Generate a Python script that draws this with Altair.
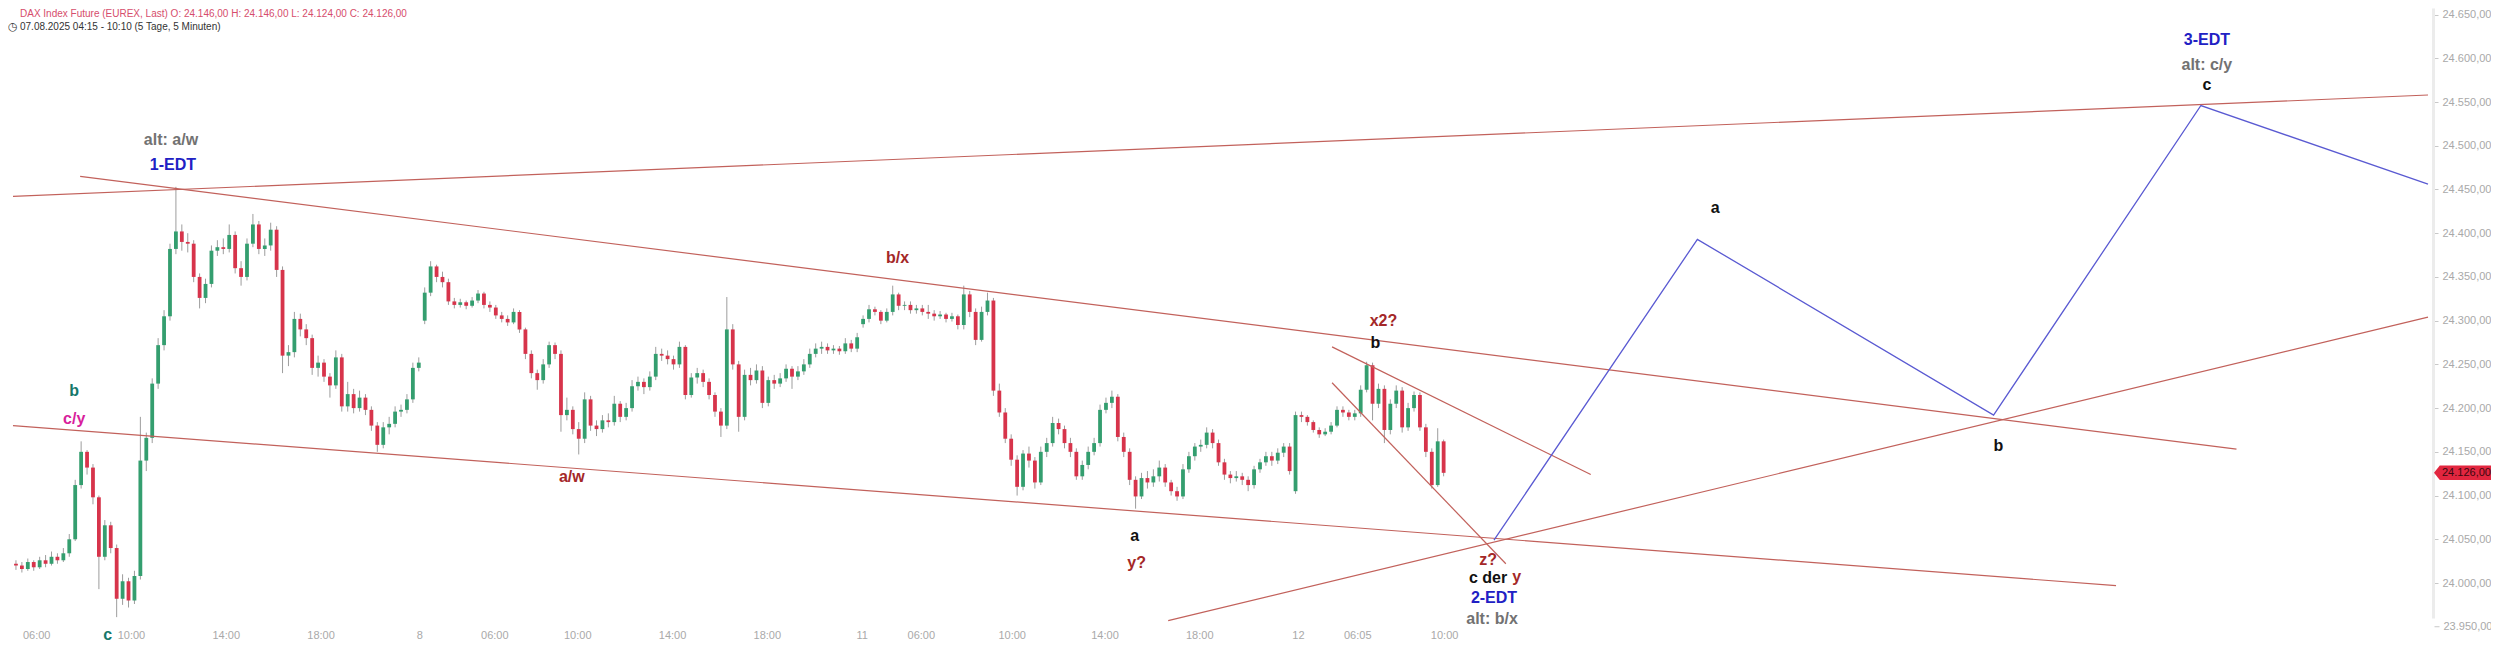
import altair as alt
import pandas as pd

# ---------------- header texts ----------------
header_line1 = "DAX Index Future (EUREX, Last)  O: 24.146,00  H: 24.146,00  L: 24.124,00  C: 24.126,00"
header_line2 = "07.08.2025 04:15 - 10:10  (5 Tage, 5 Minuten)"
clock_icon = "\u25F7"

# ---------------- candles (15-min aggregation) ----------------
# each entry: (close, high, low); open = previous close, first open of each day given
day7_open = 24022
day7 = [
    (24020, 24026, 24015), (24016, 24024, 24012), (24024, 24028, 24014), (24018, 24026, 24014),
    (24026, 24030, 24016), (24022, 24032, 24018), (24030, 24036, 24020), (24026, 24034, 24022),
    (24034, 24040, 24024), (24050, 24056, 24030), (24112, 24118, 24048), (24150, 24162, 24108),
    (24132, 24152, 24124), (24098, 24136, 24090), (24030, 24100, 23993), (24066, 24072, 24026),
    (24040, 24070, 24034), (23982, 24044, 23961), (24002, 24010, 23975), (23980, 24006, 23972),
    (24008, 24014, 23976), (24140, 24190, 24004), (24166, 24172, 24128), (24228, 24234, 24160),
    (24272, 24280, 24222), (24305, 24312, 24266), (24382, 24388, 24300), (24402, 24453, 24376),
    (24390, 24410, 24380), (24388, 24400, 24378), (24350, 24392, 24344), (24326, 24354, 24314),
    (24342, 24348, 24320), (24380, 24386, 24338), (24384, 24392, 24374), (24382, 24394, 24376),
    (24398, 24410, 24378), (24360, 24402, 24354), (24350, 24368, 24340), (24388, 24394, 24346),
    (24410, 24422, 24384), (24382, 24414, 24376), (24386, 24394, 24374), (24404, 24412, 24380),
    (24358, 24408, 24350), (24260, 24362, 24240), (24264, 24272, 24248), (24302, 24310, 24258),
    (24290, 24308, 24282), (24280, 24296, 24272), (24246, 24284, 24238), (24252, 24260, 24236),
    (24236, 24256, 24230), (24226, 24240, 24212), (24258, 24266, 24222), (24202, 24262, 24196),
    (24216, 24230, 24196), (24200, 24222, 24194), (24212, 24220, 24196), (24198, 24216, 24192),
    (24180, 24202, 24174), (24158, 24184, 24150), (24178, 24184, 24154), (24182, 24190, 24170),
    (24196, 24202, 24178), (24198, 24204, 24190), (24210, 24216, 24194), (24246, 24252, 24206),
    (24252, 24258, 24242),
]
day8_open = 24300
day8 = [
    (24332, 24338, 24296), (24362, 24368, 24328), (24350, 24364, 24344), (24344, 24356, 24338),
    (24322, 24348, 24318), (24318, 24326, 24314), (24321, 24325, 24315), (24317, 24323, 24313),
    (24323, 24327, 24315), (24331, 24335, 24320), (24318, 24333, 24314), (24315, 24322, 24310),
    (24306, 24318, 24302), (24302, 24310, 24298), (24298, 24306, 24294), (24310, 24314, 24296),
    (24290, 24312, 24286), (24262, 24292, 24256), (24240, 24266, 24234), (24232, 24244, 24221),
    (24250, 24256, 24228), (24272, 24276, 24246), (24262, 24275, 24256), (24192, 24266, 24173),
    (24198, 24212, 24186), (24176, 24202, 24170), (24165, 24184, 24147), (24210, 24218, 24160),
    (24180, 24214, 24174), (24176, 24186, 24168), (24186, 24192, 24172), (24184, 24194, 24178),
    (24205, 24214, 24180), (24190, 24208, 24184), (24200, 24206, 24186), (24225, 24232, 24196),
    (24230, 24236, 24220), (24224, 24234, 24216), (24236, 24242, 24220), (24262, 24270, 24232),
    (24260, 24268, 24254), (24256, 24266, 24250), (24250, 24260, 24244), (24270, 24276, 24246),
    (24215, 24272, 24210), (24235, 24240, 24212), (24240, 24246, 24228), (24230, 24244, 24224),
    (24215, 24234, 24210), (24196, 24218, 24190), (24180, 24200, 24167), (24290, 24327, 24176),
    (24250, 24296, 24244), (24190, 24254, 24173), (24238, 24244, 24186), (24232, 24246, 24226),
    (24243, 24250, 24228), (24206, 24248, 24200), (24232, 24236, 24202), (24228, 24238, 24222),
    (24234, 24240, 24224), (24245, 24250, 24230), (24236, 24248, 24222), (24242, 24248, 24232),
    (24250, 24256, 24238), (24262, 24268, 24246), (24268, 24274, 24258), (24270, 24276, 24262),
    (24266, 24274, 24262), (24268, 24272, 24262), (24265, 24271, 24261), (24274, 24280, 24262),
    (24268, 24278, 24264), (24281, 24286, 24264),
]
day11_open = 24296
day11 = [
    (24302, 24306, 24292), (24313, 24318, 24298), (24310, 24316, 24306), (24300, 24312, 24296),
    (24310, 24314, 24298), (24330, 24340, 24306), (24317, 24332, 24312), (24318, 24322, 24312),
    (24312, 24322, 24308), (24314, 24318, 24308), (24310, 24318, 24306), (24308, 24318, 24302),
    (24305, 24312, 24300), (24307, 24311, 24302), (24302, 24309, 24298), (24305, 24309, 24299),
    (24295, 24307, 24290), (24330, 24340, 24290), (24310, 24334, 24304), (24278, 24314, 24272),
    (24310, 24316, 24276), (24323, 24332, 24306), (24220, 24326, 24214), (24195, 24228, 24190),
    (24165, 24200, 24160), (24141, 24170, 24134), (24110, 24146, 24100), (24148, 24152, 24106),
    (24140, 24156, 24132), (24115, 24144, 24108), (24150, 24156, 24112), (24160, 24166, 24144),
    (24183, 24190, 24156), (24176, 24188, 24170), (24160, 24180, 24154), (24150, 24166, 24144),
    (24122, 24154, 24118), (24135, 24140, 24118), (24150, 24156, 24130), (24160, 24166, 24146),
    (24198, 24204, 24156), (24206, 24212, 24194), (24213, 24220, 24200), (24167, 24216, 24162),
    (24150, 24172, 24144), (24118, 24154, 24112), (24099, 24122, 24085), (24120, 24126, 24096),
    (24115, 24128, 24108), (24122, 24130, 24110), (24132, 24140, 24116), (24115, 24136, 24110),
    (24105, 24118, 24100), (24099, 24110, 24094), (24130, 24136, 24096), (24145, 24150, 24126),
    (24156, 24160, 24140), (24158, 24164, 24150), (24172, 24178, 24154), (24160, 24176, 24154),
    (24138, 24164, 24134), (24124, 24142, 24118), (24120, 24128, 24114), (24122, 24128, 24116),
    (24118, 24126, 24112), (24112, 24122, 24105), (24130, 24134, 24108), (24138, 24142, 24126),
    (24145, 24150, 24134), (24140, 24150, 24134), (24149, 24154, 24136), (24156, 24160, 24144),
    (24128, 24160, 24124),
]
day12_open = 24105
day12 = [
    (24192, 24196, 24102), (24190, 24196, 24184), (24184, 24192, 24180), (24175, 24186, 24172),
    (24170, 24178, 24166), (24173, 24177, 24168), (24180, 24184, 24170), (24198, 24202, 24178),
    (24195, 24202, 24190), (24190, 24198, 24186), (24194, 24198, 24186), (24221, 24226, 24190),
    (24249, 24253, 24218), (24205, 24252, 24186), (24222, 24228, 24200), (24175, 24226, 24160),
    (24205, 24210, 24170), (24220, 24226, 24200), (24178, 24224, 24172), (24200, 24206, 24174),
    (24215, 24219, 24196), (24178, 24218, 24174), (24150, 24182, 24144), (24112, 24154, 24108),
    (24162, 24177, 24110), (24126, 24164, 24122),
]
last_price = 24126

# ---------------- x axis labels (bar index positions) ----------------
xtick_bar = [12, 60, 108, 156, 206, 244, 286, 334, 382, 430, 460, 506, 553, 601, 651, 681, 725]
xtick_label = ["06:00", "10:00", "14:00", "18:00", "8", "06:00", "10:00", "14:00", "18:00",
               "11", "06:00", "10:00", "14:00", "18:00", "12", "06:05", "10:00"]
ytick_values = [24000, 24050, 24100, 24150, 24200, 24250, 24300, 24350, 24400,
                24450, 24500, 24550, 24600, 24650]
ytick_below = [23950]   # lowest price label, just under the plotted range

# ---------------- trend lines ----------------
line_id = ["L1", "L2", "L3", "L4", "L5", "L6"]
line_bar0 = [0, 34, 0, 585, 668, 668]
line_p0 = [24442, 24465, 24180, 23957, 24270, 24229]
line_bar1 = [1223, 1126, 1065, 1223, 799, 756]
line_p1 = [24558, 24153, 23997, 24304, 24124, 24022]

# ---------------- projected path ----------------
proj_bar = [750, 853, 1003, 1108, 1223]
proj_price = [24049, 24393, 24192, 24546, 24456]

# ---------------- wave labels ----------------
GRAY, BLUE, TEAL, MAG, DRED, BLK = "#727272", "#2121c4", "#16786b", "#d81f9c", "#a42828", "#111111"
ann_text = ["alt: a/w", "1-EDT", "b", "c/y", "a/w", "b/x", "x2?", "b", "a", "y?", "z?", "c der", "y",
            "2-EDT", "alt: b/x", "a", "b", "3-EDT", "alt: c/y", "c"]
ann_bar = [80, 81, 31, 31, 283, 448, 694, 690, 568, 569, 747, 747, 761.5, 750, 749, 862, 1005.5,
           1111, 1111, 1111]
ann_price = [24506, 24478, 24220, 24188, 24121, 24372, 24300, 24274, 24054, 24023, 24026, 24006,
             24007, 23983, 23959, 24429, 24157, 24621, 24592, 24569]
ann_color = [GRAY, BLUE, TEAL, MAG, DRED, DRED, DRED, BLK, BLK, DRED, DRED, BLK, DRED, BLUE, GRAY,
             BLK, BLK, BLUE, GRAY, BLK]
bottom_label = ["c"]
bottom_bar = [48]

# ---------------- build tables ----------------
rows = []
k = 0
for first_open, day in [(day7_open, day7), (day8_open, day8), (day11_open, day11), (day12_open, day12)]:
    prev = first_open
    for c, h, l in day:
        o = prev
        rows.append({"bar": 3 * k + 1.5, "open": o, "close": c,
                     "high": max(h, o, c), "low": min(l, o, c),
                     "dir": "up" if c >= o else "down"})
        prev = c
        k += 1
candles = pd.DataFrame(rows)

lines_rows = []
for i, lid in enumerate(line_id):
    lines_rows.append({"id": lid, "bar": line_bar0[i], "price": line_p0[i]})
    lines_rows.append({"id": lid, "bar": line_bar1[i], "price": line_p1[i]})
lines_df = pd.DataFrame(lines_rows)

proj_df = pd.DataFrame({"bar": proj_bar, "price": proj_price, "seq": list(range(len(proj_bar)))})
ann_df = pd.DataFrame({"bar": ann_bar, "price": ann_price, "text": ann_text, "color": ann_color})
xt_df = pd.DataFrame({"bar": xtick_bar, "label": xtick_label})
bl_df = pd.DataFrame({"bar": bottom_bar, "label": bottom_label})


def de_fmt(v):
    return f"{v:,.2f}".replace(",", "#").replace(".", ",").replace("#", ".")


tag_df = pd.DataFrame({"price": [last_price], "label": [de_fmt(last_price)]})
below_df = pd.DataFrame({"price": ytick_below, "label": [de_fmt(v) for v in ytick_below]})

# ---------------- chart ----------------
W, H = 2425, 610
FONT = "Liberation Sans"
x_scale = alt.Scale(domain=[0, 1223], nice=False, zero=False)
y_scale = alt.Scale(domain=[23960, 24657.5], nice=False, zero=False)
label_expr = "replace(replace(replace(format(datum.value, ',.2f'), ',', '#'), '.', ','), '#', '.')"
y_axis = alt.Axis(orient="right", values=ytick_values, labelExpr=label_expr, title=None,
                  labelColor="#a9a9a9", labelFontSize=11, labelFont=FONT, labelPadding=4,
                  tickColor="#c8c8c8", tickSize=5, domainColor="#ececec", domainWidth=3,
                  grid=False, labelOverlap=False, labelBound=False)


def X(field="bar"):
    return alt.X(f"{field}:Q", scale=x_scale, axis=None)


def Y(field):
    return alt.Y(f"{field}:Q", scale=y_scale, axis=y_axis)


wicks = alt.Chart(candles).mark_rule(color="#9d9d9d", strokeWidth=1).encode(
    x=X(), y=Y("low"), y2="high:Q")

bodies = alt.Chart(candles).mark_bar(size=3.8).encode(
    x=X(), y=Y("open"), y2="close:Q",
    color=alt.Color("dir:N", scale=alt.Scale(domain=["up", "down"], range=["#349e6f", "#d7344b"]),
                    legend=None))

trend = alt.Chart(lines_df).mark_line(color="#c2615b", strokeWidth=1.2).encode(
    x=X(), y=Y("price"), detail="id:N")

proj = alt.Chart(proj_df).mark_line(color="#5a5ad2", strokeWidth=1.3).encode(
    x=X(), y=Y("price"), order="seq:Q")

ann = alt.Chart(ann_df).mark_text(fontSize=16, fontWeight="bold", font=FONT).encode(
    x=X(), y=Y("price"), text="text:N",
    color=alt.Color("color:N", scale=None))

xlabels = alt.Chart(xt_df).mark_text(fontSize=11, font=FONT, color="#a9a9a9").encode(
    x=X(), y=alt.value(H + 18), text="label:N")

bottom_c = alt.Chart(bl_df).mark_text(fontSize=16, fontWeight="bold", font=FONT, color=TEAL).encode(
    x=X(), y=alt.value(H + 17), text="label:N")

below_tick = alt.Chart(below_df).mark_rule(color="#c8c8c8").encode(
    x=alt.value(W + 1.5), x2=alt.value(W + 6.5), y=Y("price"))
below_lbl = alt.Chart(below_df).mark_text(fontSize=11, font=FONT, color="#a9a9a9", align="left").encode(
    x=alt.value(W + 10.5), y=Y("price"), text="label:N")

hdr1 = alt.Chart(pd.DataFrame({"t": [header_line1]})).mark_text(
    fontSize=10, font=FONT, color="#d64d6c", align="left", baseline="top").encode(
    x=alt.value(12), y=alt.value(1), text="t:N")
hdr2 = alt.Chart(pd.DataFrame({"t": [header_line2]})).mark_text(
    fontSize=10, font=FONT, color="#333333", align="left", baseline="top").encode(
    x=alt.value(12), y=alt.value(14), text="t:N")
hdr_icon = alt.Chart(pd.DataFrame({"t": [clock_icon]})).mark_text(
    fontSize=11, font="DejaVu Sans", color="#333333", align="left", baseline="top").encode(
    x=alt.value(0), y=alt.value(13), text="t:N")

tag_shape = "M -1 0 L -0.8 -0.25 L 1 -0.25 L 1 0.25 L -0.8 0.25 Z"
tag_bg = alt.Chart(tag_df).mark_point(shape=tag_shape, size=3364, filled=True, opacity=1,
                                      color="#e2263f", strokeWidth=0).encode(
    x=alt.value(W + 30), y=Y("price"))
tag_txt = alt.Chart(tag_df).mark_text(fontSize=11, font=FONT, color="#3a0810", align="left").encode(
    x=alt.value(W + 9), y=Y("price"), text="label:N")

chart = alt.layer(wicks, bodies, trend, proj, ann, xlabels, bottom_c, below_tick, below_lbl,
                  hdr1, hdr2, hdr_icon, tag_bg, tag_txt).properties(
    width=W, height=H,
    autosize=alt.AutoSizeParams(type="none"),
    padding={"left": 0, "top": 0, "right": 58, "bottom": 24},
    background="white",
).configure_view(stroke=None)

chart.save("out.html", embed_options={"renderer": "svg", "actions": False})
